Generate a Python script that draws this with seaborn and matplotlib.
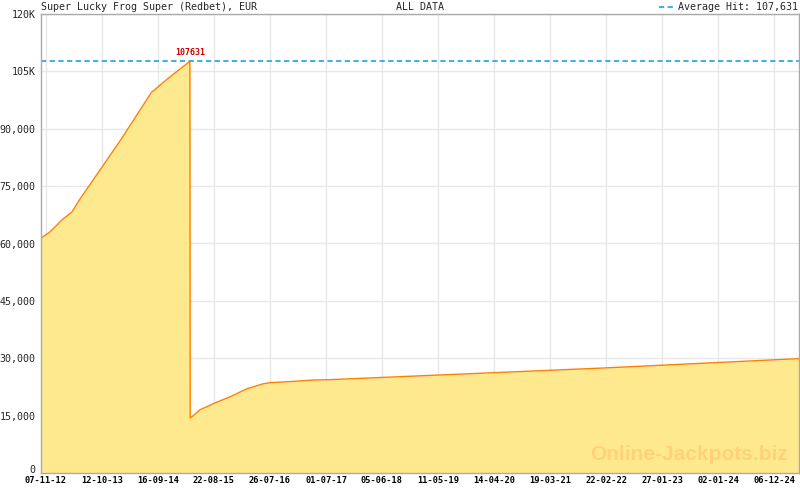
#!/usr/bin/env python3
"""Jackpot history chart: Super Lucky Frog Super (Redbet)."""

import numpy as np
import pandas as pd
import matplotlib
matplotlib.use("Agg")
import matplotlib.pyplot as plt
import matplotlib.dates as mdates
import matplotlib.transforms as mtransforms
import seaborn as sns

# data
dates = ["2012-10-08", "2012-12-01", "2013-02-18", "2013-04-13", "2013-06-01",
         "2014-02-08", "2014-08-08", "2014-11-15", "2015-03-29",
         "2015-03-31", "2015-04-16", "2015-05-28", "2015-08-27", "2015-11-26",
         "2016-03-08", "2016-06-13", "2016-07-25", "2016-11-23", "2017-04-11",
         "2017-07-23", "2022-01-11", "2025-05-06"]
values = [61400, 63000, 66400, 68200, 71600,
          87400, 99500, 103100, 107631,
          14400, 14900, 16500, 18300, 19900,
          22000, 23300, 23600, 23900, 24300,
          24400, 27400, 29900]

avg_hit = 107631
peak_date = "2015-03-29"
y_ticks = [0, 15000, 30000, 45000, 60000, 75000, 90000, 105000, 120000]
y_labels = ["0", "15,000", "30,000", "45,000", "60,000", "75,000", "90,000", "105K", "120K"]
x_tick_labels = ["07-11-12", "12-10-13", "16-09-14", "22-08-15", "26-07-16", "01-07-17",
                 "05-06-18", "11-05-19", "14-04-20", "19-03-21", "22-02-22", "27-01-23",
                 "02-01-24", "06-12-24"]
x_start, x_end = "2012-10-08", "2025-05-06"

df = pd.DataFrame({"date": pd.to_datetime(dates), "value": values})

sns.set_style("white")
plt.rcParams["font.family"] = ["DejaVu Sans Mono"]

fig = plt.figure(figsize=(8, 4.9), dpi=100)
ax = fig.add_axes([41 / 800, 1 - 473 / 490, 758 / 800, 459 / 490])

# area + line
ax.fill_between(df["date"], df["value"], 0, color="#FFE98F", linewidth=0, zorder=2)
sns.lineplot(data=df, x="date", y="value", color="#FF8000", linewidth=1.0, ax=ax, zorder=3)

# average hit line
avg_df = pd.DataFrame({"date": pd.to_datetime([x_start, x_end]), "value": [avg_hit, avg_hit]})
sns.lineplot(data=avg_df, x="date", y="value", color="#27A4E3", linewidth=1.25,
             linestyle=(0, (3, 2)), ax=ax, zorder=4, label="Average Hit: 107,631")

ax.annotate(str(avg_hit), (pd.Timestamp(peak_date), avg_hit), xytext=(0, 3),
            textcoords="offset points", ha="center", va="bottom",
            color="#CC0000", fontsize=6, fontweight="bold", zorder=5)

# ticks: majors from the labels, three minors between each pair
major = mdates.date2num(pd.to_datetime(x_tick_labels, format="%d-%m-%y"))
step = np.diff(major).mean() / 4
lo, hi = mdates.date2num(pd.Timestamp(x_start)), mdates.date2num(pd.Timestamp(x_end))
minor = np.arange(major[0] - 8 * step, hi, step)
minor = minor[(minor > lo) & (minor < hi)]
ax.set_xticks(major)
ax.set_xticklabels(x_tick_labels)
ax.set_xticks(minor, minor=True)
ax.set_xlim(lo, hi)
ax.set_ylim(0, 120000)
ax.set_yticks(y_ticks)
ax.set_yticklabels(y_labels)
ax.set_xlabel("")
ax.set_ylabel("")

ax.grid(True, which="major", color="#E8E8E8", linewidth=1, zorder=1)
ax.set_axisbelow(True)
for s in ax.spines.values():
    s.set_color("#AAAAAA")
    s.set_linewidth(1)
    s.set_zorder(6)

ax.tick_params(axis="x", which="major", direction="in", length=5, color="#AAAAAA",
               labelsize=6.2, pad=2, labelcolor="black")
ax.tick_params(axis="x", which="minor", direction="in", length=3, color="#AAAAAA")
ax.tick_params(axis="y", length=0, labelsize=7.2, pad=4)
for lbl in ax.get_xticklabels():
    lbl.set_fontweight("bold")
# lift the "0" label a little so it clears the first date label
zero_lbl = ax.get_yticklabels()[0]
zero_lbl.set_transform(zero_lbl.get_transform()
                       + mtransforms.ScaledTranslation(0, 4 / 100, fig.dpi_scale_trans))

# titles and legend
fig.text(41 / 800, 1 - 7 / 490, "Super Lucky Frog Super (Redbet), EUR",
         fontsize=7.2, va="center", ha="left")
fig.text(420 / 800, 1 - 7 / 490, "ALL DATA", fontsize=7.2, va="center", ha="center")
ax.legend(loc="lower right", bbox_to_anchor=(1.0, 1.0), frameon=False, fontsize=7.2,
          handlelength=1.6, handletextpad=0.3, borderpad=0, borderaxespad=0.15)

# watermark
ax.text(0.985, 0.02, "Online-Jackpots.biz", transform=ax.transAxes, ha="right",
        va="bottom", fontsize=15, fontweight="bold", family="Liberation Sans",
        color="#FFD27A", zorder=5)

plt.savefig("out.png", dpi=100)
plt.close()
